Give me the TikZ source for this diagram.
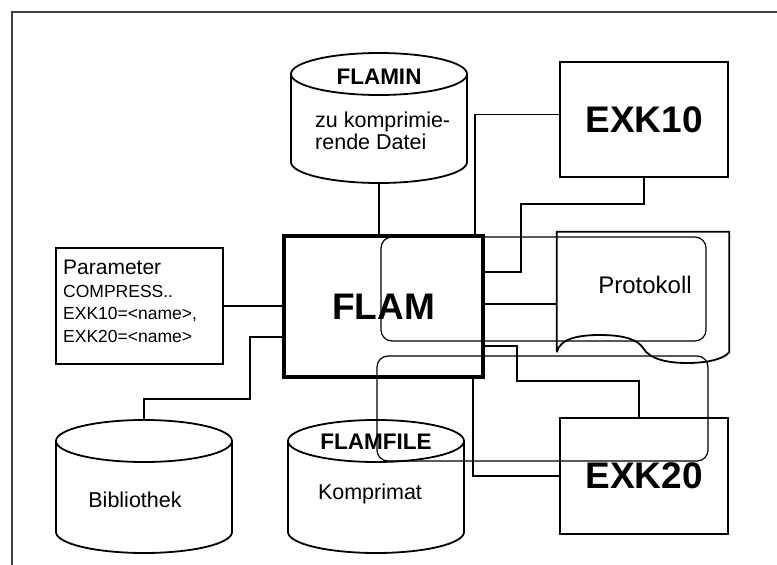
\documentclass[tikz,border=0pt]{standalone}
\usepackage{fontspec}
\setmainfont{Liberation Sans}
\usetikzlibrary{calc,positioning}
\tikzset{
    rahmen/.style={draw=black!75,line width=1.5pt},
    kasten/.style={rectangle,draw,line width=1.8pt,inner sep=0pt,outer sep=0pt},
    haupt/.style={rectangle,draw,line width=4.5pt,inner sep=0pt,outer sep=0pt,
        minimum width=199pt,minimum height=141pt,node font=\bfseries\fontsize{37}{40}\selectfont},
    modul/.style={kasten,minimum width=168pt,minimum height=115pt,
        node font=\bfseries\fontsize{37}{40}\selectfont},
    zylrumpf/.style={rectangle,draw=none,minimum width=176pt,minimum height=133pt,
        inner sep=0pt,outer sep=0pt},
    titel/.style={node font=\bfseries\fontsize{22.5}{25}\selectfont,inner sep=0pt},
    beschr/.style={node font=\fontsize{21.5}{22}\selectfont,inner sep=0pt},
    linie/.style={draw,line width=1.2pt},
    schleife/.style={rectangle,draw,rounded corners=11pt,line width=1.2pt,inner sep=0pt},
    umriss/.style={line width=1.8pt},
}
\newcommand{\zylinder}[1]{%
    \draw[umriss] ($(#1.north west)+(0,-21pt)$) -- ($(#1.south west)+(0,21pt)$)
        arc[start angle=180,end angle=360,x radius=88pt,y radius=21pt]
        -- ($(#1.north east)+(0,-21pt)$)
        arc[start angle=0,end angle=180,x radius=88pt,y radius=21pt]
        arc[start angle=180,end angle=360,x radius=88pt,y radius=21pt];
}

\begin{document}
\begin{tikzpicture}[x=1pt,y=-1pt]
    \useasboundingbox (0,0) rectangle (777,565);
    \draw[rahmen] (12,565) -- (12,12) -- (777,12);

    \node [haupt]                          (flam)     at (383.5,306.5) {FLAM};
    \node [zylrumpf,minimum height=130pt]  (flamin)   at (379,118) {};
    \node [modul]                          (exk10)    at (644,119.5) {EXK10};
    \node [modul,minimum height=116pt]     (exk20)    at (644,476) {EXK20};
    \node [kasten,minimum width=167pt,minimum height=116pt] (param) at (139.5,306) {};
    \node [zylrumpf]                       (bib)      at (144,486.5) {};
    \node [zylrumpf]                       (flamfile) at (376,486.5) {};
    \node [draw=none,minimum width=172pt,minimum height=120pt,inner sep=0pt] (proto) at (643,292) {};
    \zylinder{flamin}
    \zylinder{bib}
    \zylinder{flamfile}
    \draw[umriss] (proto.south west) -- (proto.north west) -- (proto.north east) -- (proto.south east)
        .. controls (725,358) and (710,363) .. (687,363)
        .. controls (670,363) and (650,360) .. (643,348)
        .. controls (638,340) and (625,335) .. (600,335)
        .. controls (580,335) and (560,338) .. (proto.south west);

    % Beschriftungen
    \node [titel] (flamin-t) at ([yshift=-24pt]flamin.north) {FLAMIN};
    \node [beschr,anchor=north west,align=left] (flamin-b) at ([xshift=24pt,yshift=-59pt]flamin.north west) {zu komprimie-\\rende Datei};
    \node [titel] (flamfile-t) at ([yshift=-22pt]flamfile.north) {FLAMFILE};
    \node [beschr,anchor=base] (flamfile-b) at ([xshift=-6pt,yshift=-79pt]flamfile.north) {Komprimat};
    \node [beschr,anchor=base] (bib-b) at ([xshift=-9pt,yshift=-87pt]bib.north) {Bibliothek};
    \node [beschr,node font=\fontsize{24}{26}\selectfont,anchor=base] (proto-b) at ([xshift=2pt,yshift=-1pt]proto.center) {Protokoll};
    \node [anchor=north west,align=left,inner sep=0pt,node font=\fontsize{17.5}{22.5}\selectfont] (param-t)
        at ([xshift=7pt,yshift=-12pt]param.north west)
        {{\fontsize{21}{22.5}\selectfont Parameter}\\COMPRESS..\\EXK10=<name>,\\EXK20=<name>};

    % Schleifen
    \node [schleife,minimum width=325pt,minimum height=104pt] (schleife1) at (543.5,289) {};
    \node [schleife,minimum width=331pt,minimum height=105pt] (schleife2) at (542.5,408.5) {};

    % Verbindungen
    \path [linie] (flamin.south) -- (flamin.south |- flam.north);
    \path [linie] ([yshift=5pt]exk10.west) -| ([xshift=-8pt]flam.north east);
    \path [linie] (exk10.south) -- ++(0,-27pt) -| ([xshift=38pt,yshift=34.5pt]flam.east) -- ([yshift=34.5pt]flam.east);
    \path [linie] ([yshift=-12pt]proto.west) -- ([yshift=-12pt]proto.west -| flam.east);
    \path [linie] ([yshift=-39.5pt]flam.east) -- ++(34pt,0) -- ++(0,-35pt) -| ([xshift=-5pt]exk20.north);
    \path [linie] ([xshift=-10pt]flam.south east) |- (exk20.west);
    \path [linie] (param.east) -- (param.east -| flam.west);
    \path [linie] ([yshift=-30.5pt]flam.west) -- ++(-34pt,0) |- ($(bib.north)+(0,21pt)$) -- (bib.north);
\end{tikzpicture}
\end{document}
